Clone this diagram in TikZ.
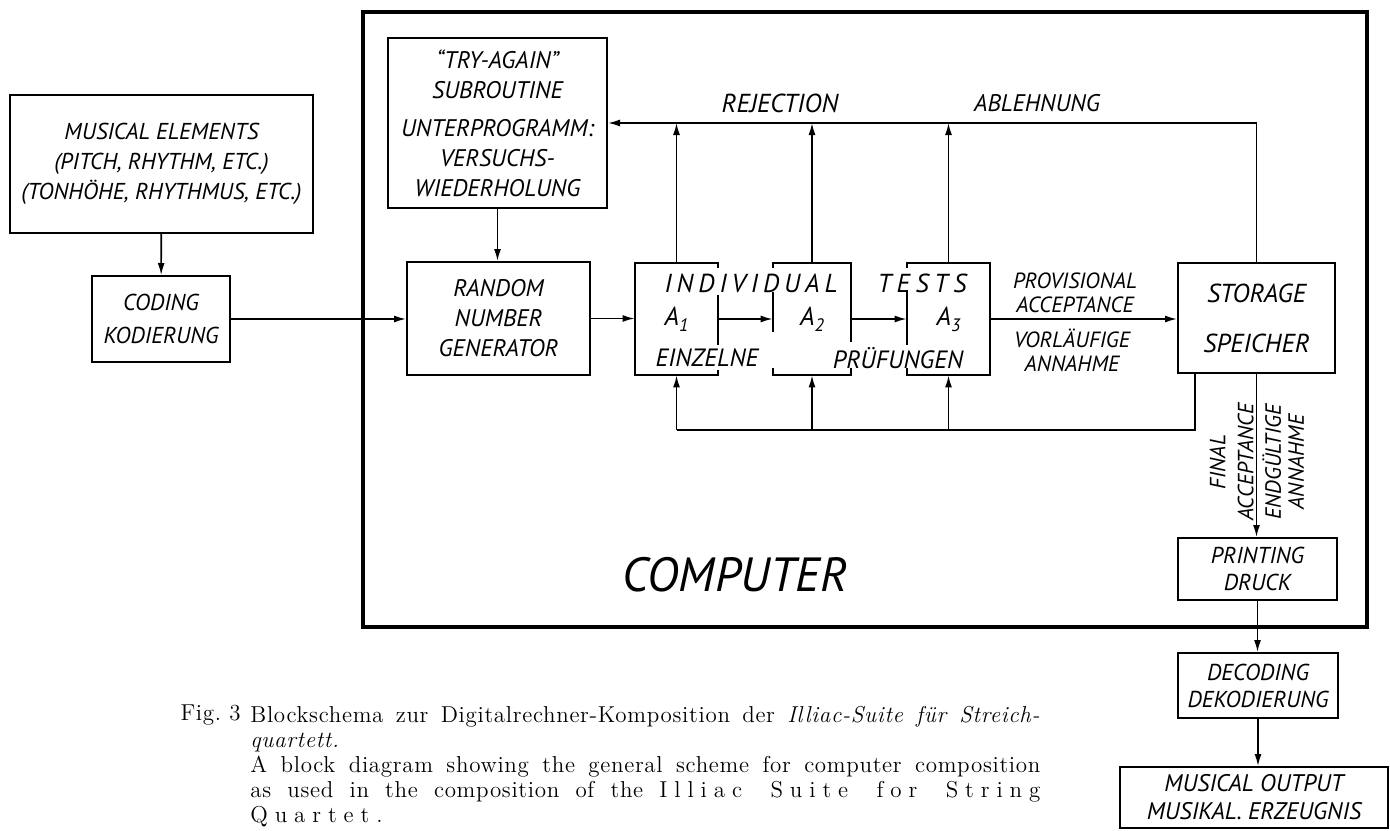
\documentclass[tikz,border=0pt]{standalone}
\usepackage{fontspec}
\newfontfamily\handfont{PT Sans}
\newfontfamily\capfont{Latin Modern Roman}[LetterSpace=3]
\newfontfamily\sperrfont{Latin Modern Roman}[LetterSpace=30]
\usetikzlibrary{arrows.meta, calc}
\newcommand{\Asub}[2]{#1\raisebox{-3pt}{\fontsize{9}{9}\selectfont #2}}
\tikzset{
  blk/.style={rectangle, draw, line width=1pt, align=center, inner sep=0pt,
              font=\handfont\itshape\fontsize{12}{15}\selectfont},
  tst/.style={rectangle, inner sep=0pt, minimum width=41.5pt, minimum height=56pt,
              font=\handfont\itshape\fontsize{13}{15}\selectfont},
  lbl/.style={inner sep=0pt, align=center, font=\handfont\itshape\fontsize{12}{14}\selectfont},
  edge/.style={line width=1pt},
  line/.style={line width=0.8pt},
  arrow/.style={-{Latex[length=6pt,width=3.5pt]}, line width=0.8pt},
  frame/.style={rectangle, draw, line width=2.2pt, inner sep=0pt},
  caption/.style={inner sep=0pt, font=\capfont\fontsize{11.5}{12.5}\selectfont},
}

\begin{document}
\begin{tikzpicture}[x=0.5pt, y=-0.5pt]
  \useasboundingbox (0,0) rectangle (1390,830);

  % ── Computer frame ────────────────────────────────────────────────────
  \node[frame, minimum width=502pt, minimum height=307.5pt] (computer) at (865,319.5) {};
  \node[lbl, font=\handfont\itshape\fontsize{24}{26}\selectfont] (complbl) at (735,575) {COMPUTER};

  % ── Input side ────────────────────────────────────────────────────────
  \node[blk, minimum width=151.5pt, minimum height=69pt,
        font=\handfont\itshape\fontsize{11.5}{15}\selectfont] (music) at (161.5,164)
    {MUSICAL ELEMENTS\\(PITCH, RHYTHM, ETC.)\\(TONHÖHE, RHYTHMUS, ETC.)};
  \node[blk, minimum width=69pt, minimum height=43pt,
        font=\handfont\itshape\fontsize{11.5}{16.5}\selectfont] (coding) at (161,319)
    {CODING\\KODIERUNG};

  % ── Try-again and generator ───────────────────────────────────────────
  \node[blk, minimum width=109.5pt, minimum height=85pt] (tryagain) at (497.5,123)
    {“TRY-AGAIN”\\SUBROUTINE\\[4pt]UNTERPROGRAMM:\\VERSUCHS-\\WIEDERHOLUNG};
  \node[blk, minimum width=91.5pt, minimum height=56.5pt] (rng) at (498.5,318.5)
    {RANDOM\\NUMBER\\GENERATOR};

  % ── Individual tests ──────────────────────────────────────────────────
  \node[tst] (a1) at (676.5,319) {\Asub{A}{1}};
  \node[tst, minimum width=39pt] (a2) at (812,319) {\Asub{A}{2}};
  \node[tst] (a3) at (948.5,319) {\Asub{A}{3}};

  \draw[edge] ([yshift=-2.5pt]a1.north east) -- (a1.north east) -- (a1.north west)
    -- (a1.south west) -- (a1.south east) -- ([yshift=2.5pt]a1.south east);
  \draw[edge] ([yshift=12pt]a1.east) -- ([yshift=-13pt]a1.east);

  \draw[edge] ([yshift=-2.5pt]a2.north west) -- (a2.north west) -- (a2.north east)
    -- ([yshift=-39.5pt]a2.north east);
  \draw[edge] ([yshift=3.5pt]a2.south east) -- (a2.south east) -- (a2.south west)
    -- ([yshift=3.5pt]a2.south west);
  \draw[edge] ([yshift=13.5pt]a2.west) -- ([yshift=-6.5pt]a2.west);

  \draw[edge] ([yshift=-2.5pt]a3.north west) -- (a3.north west) -- (a3.north east)
    -- (a3.south east) -- (a3.south west) -- ([yshift=3.5pt]a3.south west);
  \draw[edge] ([yshift=14.5pt]a3.west) -- ([yshift=-13pt]a3.west);

  \node[lbl, font=\handfont\itshape\fontsize{13}{15}\selectfont] (indiv) at (751,283)
    {\makebox[86.5pt][s]{I N D I V I D U A L}};
  \node[lbl, font=\handfont\itshape\fontsize{13}{15}\selectfont] (tests) at (922,283)
    {\makebox[44.5pt][s]{T E S T S}};
  \node[lbl, font=\handfont\itshape\fontsize{12.5}{15}\selectfont] (einz) at (707,358) {EINZELNE};
  \node[lbl, font=\handfont\itshape\fontsize{12.5}{15}\selectfont] (pruef) at (898,358) {PRÜFUNGEN};

  % ── Storage ───────────────────────────────────────────────────────────
  \node[blk, minimum width=78.5pt, minimum height=55pt,
        font=\handfont\itshape\fontsize{13}{15}\selectfont] (storage) at (1256.5,318)
    {STORAGE\\[10pt]SPEICHER};

  \node[lbl, font=\handfont\itshape\fontsize{11}{12}\selectfont] (prov) at (1075,293)
    {PROVISIONAL\\ACCEPTANCE};
  \node[lbl, font=\handfont\itshape\fontsize{11}{12}\selectfont] (vorl) at (1072,350)
    {VORLÄUFIGE\\ANNAHME};

  \node[lbl, font=\handfont\itshape\fontsize{13}{15}\selectfont] (rej) at (780,103) {REJECTION};
  \node[lbl, font=\handfont\itshape\fontsize{12}{15}\selectfont] (abl) at (1037,103) {ABLEHNUNG};

  % ── Output chain ──────────────────────────────────────────────────────
  \node[blk, minimum width=79.5pt, minimum height=31pt,
        font=\handfont\itshape\fontsize{11.5}{13.5}\selectfont] (printing) at (1257.5,569)
    {PRINTING\\DRUCK};
  \node[blk, minimum width=80pt, minimum height=32.5pt,
        font=\handfont\itshape\fontsize{11.5}{13.5}\selectfont] (decoding) at (1258,685.5)
    {DECODING\\DEKODIERUNG};
  \node[blk, minimum width=134pt, minimum height=30.5pt,
        font=\handfont\itshape\fontsize{12}{14}\selectfont] (output) at (1254,797.5)
    {MUSICAL OUTPUT\\MUSIKAL. ERZEUGNIS};

  \node[lbl, rotate=90, anchor=south, font=\handfont\itshape\fontsize{11}{14}\selectfont]
    (final) at (1254,462) {FINAL\\ACCEPTANCE};
  \node[lbl, rotate=90, anchor=north, font=\handfont\itshape\fontsize{11}{11.5}\selectfont]
    (endg) at (1262,462) {ENDGÜLTIGE\\ANNAHME};

  % ── Connectors ────────────────────────────────────────────────────────
  \draw[arrow] (music) -- (coding);
  \draw[arrow] (coding.east) -- (coding.east -| rng.west);
  \draw[arrow] (tryagain.south) -- (tryagain.south |- rng.north);
  \draw[arrow] (rng.east) -- (rng.east -| a1.west);
  \draw[arrow] (a1.east) -- (a1.east -| a2.west);
  \draw[arrow] (a2.east) -- (a2.east -| a3.west);
  \draw[arrow] (a3.east) -- (a3.east -| storage.west);

  % rejection
  \draw[arrow] (storage.north) |- (tryagain.east);
  \foreach \t in {a1,a2,a3}
    \draw[arrow] (\t.north) -- (\t.north |- tryagain.east);

  % retest loop
  \coordinate (loop) at (1195,430);
  \draw[line] (loop |- storage.south) -- (loop) -- (loop -| a1.south);
  \foreach \t in {a1,a2,a3}
    \draw[arrow] (loop -| \t.south) -- (\t.south);

  % final acceptance
  \draw[arrow] (storage.south) -- (storage.south |- printing.north);
  \draw[arrow] (printing.south) -- (printing.south |- decoding.north);
  \draw[arrow] (decoding.south) -- (decoding.south |- output.north);

  % ── Caption ───────────────────────────────────────────────────────────
  \node[caption, anchor=base east] (fignum) at (241,720) {Fig.~3};
  \node[caption, anchor=north west, align=left] (captext) at (250,706)
    {\makebox[395pt][s]{Blockschema zur Digitalrechner-Komposition der \textit{Illiac-Suite für Streich-}}\\
     \textit{quartett.}\\
     \makebox[395pt][s]{A block diagram showing the general scheme for computer composition}\\
     \makebox[395pt][s]{as used in the composition of the {\sperrfont Illiac Suite for String}}\\
     {\sperrfont Quartet.}};

\end{tikzpicture}
\end{document}
